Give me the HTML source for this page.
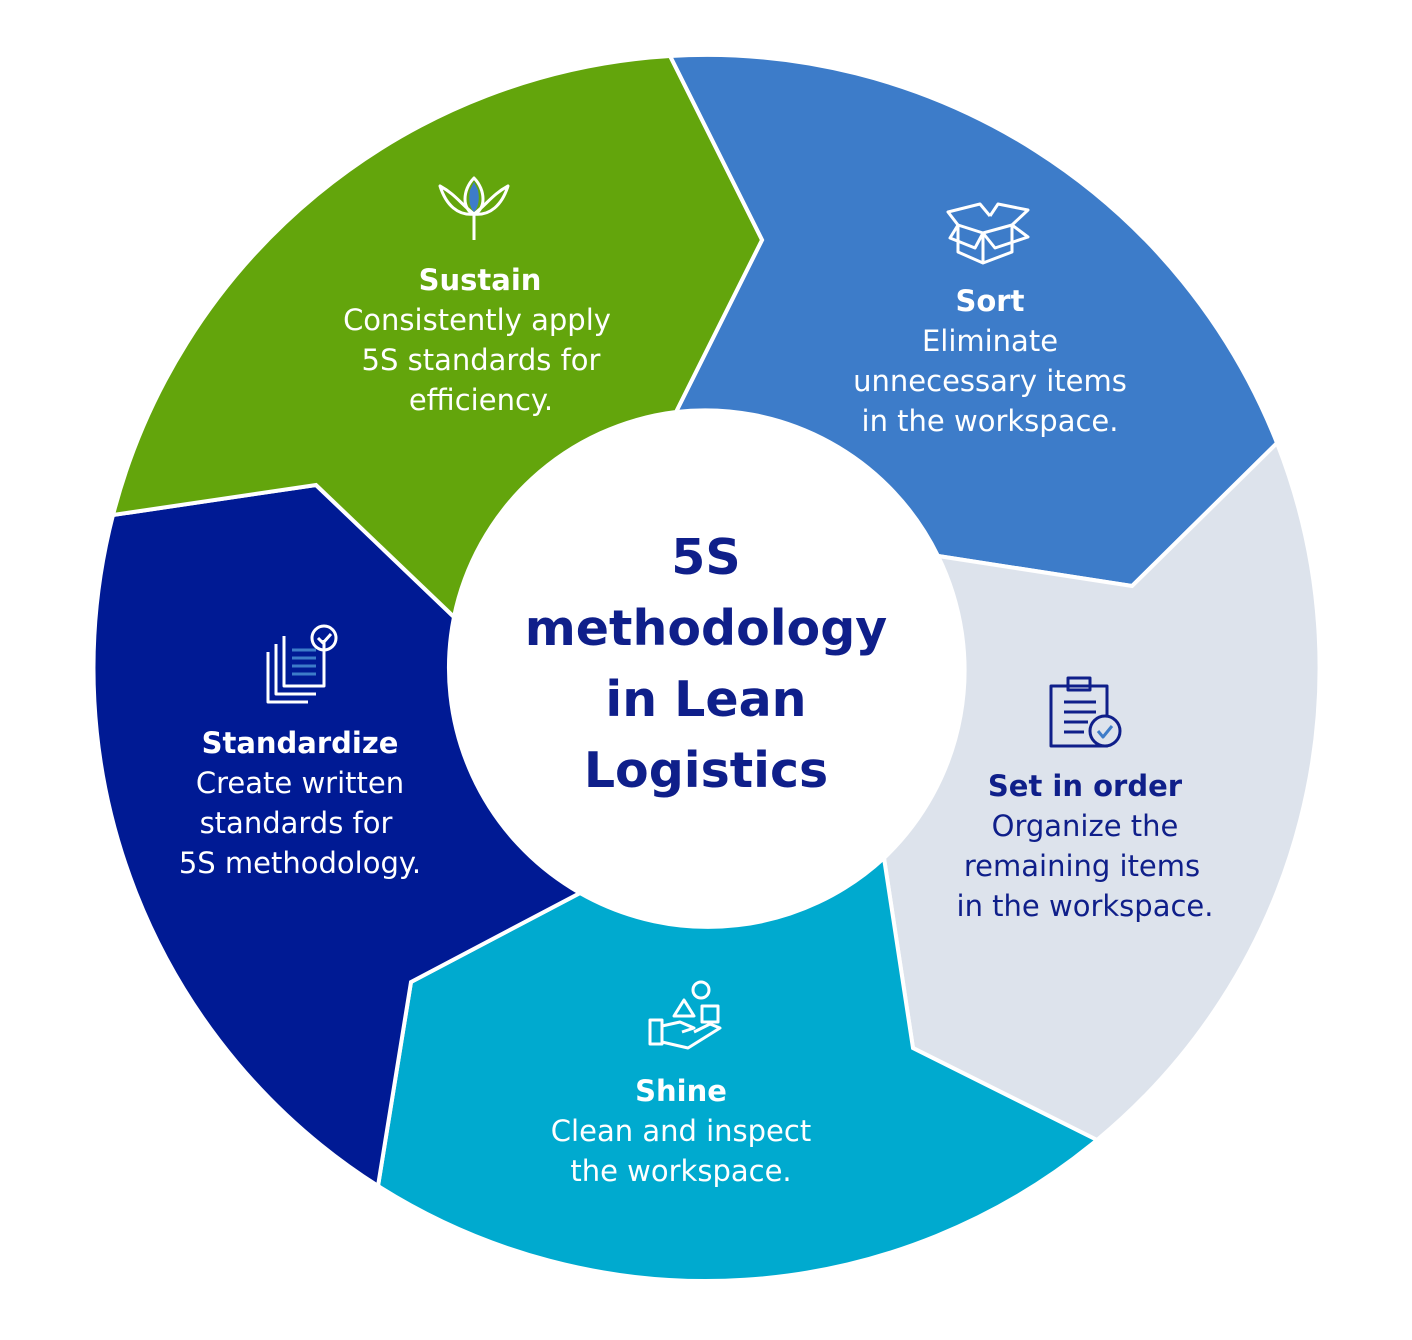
<!DOCTYPE html>
<html><head><meta charset="utf-8"><style>
html,body{margin:0;padding:0;background:#fff}
svg{display:block}
text{font-family:"DejaVu Sans","Liberation Sans",sans-serif}
</style></head><body>
<svg width="1412" height="1340" viewBox="0 0 1412 1340" xmlns="http://www.w3.org/2000/svg">
<g stroke="#fff" stroke-width="4" stroke-linejoin="miter">
<path fill="#3d7cc9" d="M670,56 A613,613 0 0 1 1277,443 L1132,586 L938,556 A259,259 0 0 0 676,412 L762,240 Z"/>
<path fill="#dde3ec" d="M1277,443 A613,613 0 0 1 1097,1140 L913,1048 L884,858 A259,259 0 0 0 938,556 L1132,586 Z"/>
<path fill="#00aacf" d="M1097,1140 A613,613 0 0 1 378,1186 L411,982 L580,893 A259,259 0 0 0 884,858 L913,1048 Z"/>
<path fill="#001a94" d="M378,1186 A613,613 0 0 1 113,515 L316,485 L454,617 A259,259 0 0 0 580,893 L411,982 Z"/>
<path fill="#63a50c" d="M113,515 A613,613 0 0 1 670,56 L762,240 L676,412 A259,259 0 0 0 454,617 L316,485 Z"/>
</g>
<circle cx="706" cy="669" r="257" fill="#fff"/>
<g fill="#0f1f8a" font-weight="bold" font-size="49" text-anchor="middle">
<text x="706" y="574">5S</text>
<text x="706" y="645">methodology</text>
<text x="706" y="716">in Lean</text>
<text x="706" y="787">Logistics</text>
</g>
<g font-size="29" text-anchor="middle" fill="#fff">
<text x="480" y="290" font-weight="bold">Sustain</text>
<text x="477" y="330">Consistently apply</text>
<text x="481" y="370">5S standards for</text>
<text x="481" y="410">efficiency.</text>
<text x="990" y="311" font-weight="bold">Sort</text>
<text x="990" y="351">Eliminate</text>
<text x="990" y="391">unnecessary items</text>
<text x="990" y="431">in the workspace.</text>
<text x="681" y="1101" font-weight="bold">Shine</text>
<text x="681" y="1141">Clean and inspect</text>
<text x="681" y="1181">the workspace.</text>
<text x="300" y="753" font-weight="bold">Standardize</text>
<text x="300" y="793">Create written</text>
<text x="296" y="833">standards for</text>
<text x="300" y="873">5S methodology.</text>
<g fill="#0f1f8a">
<text x="1085" y="796" font-weight="bold">Set in order</text>
<text x="1085" y="836">Organize the</text>
<text x="1082" y="876">remaining items</text>
<text x="1085" y="916">in the workspace.</text>
</g>
</g>
<!-- icons -->
<g fill="none" stroke="#fff" stroke-width="3" stroke-linejoin="round">
<path d="M958,225 L958,252 L983,263 L1012,252 L1012,225"/>
<path d="M958,225 L983,233 L1012,225 M983,233 L983,263"/>
<path d="M958,225 L948,212 L980,204 L990,216 M1012,225 L1028,210 L998,204 L990,216"/>
<path d="M958,225 L950,238 L975,248 L983,233 M1012,225 L1028,237 L995,248 L983,233"/>
<path d="M474,240 L474,212 M474,178 C462,190 462,210 474,214 C486,210 486,190 474,178 Z M440,186 C446,205 458,216 474,214 C462,205 455,194 440,186 Z M508,186 C502,205 490,216 474,214 C486,205 493,194 508,186 Z"/>
<rect x="650" y="1020" width="12" height="24"/>
<path d="M662,1026 L680,1022 L694,1028 L682,1032 M662,1042 L688,1048 L720,1028 L710,1024 L694,1032"/>
<path d="M674,1016 L684,1000 L694,1016 Z"/>
<circle cx="701" cy="990" r="8"/>
<rect x="702" y="1006" width="16" height="16"/>
<path d="M268,652 L268,702 L308,702 M276,644 L276,694 L316,694 M284,636 L284,686 L324,686 L324,640"/>
<circle cx="324" cy="638" r="12"/>
<path d="M318,638 L323,643 L331,634"/>
</g>
<path fill="#3d7cc9" d="M470,190 C468,200 470,208 474,212 C478,208 480,200 478,190 L474,182 Z"/>
<g stroke="#3d7cc9" stroke-width="3">
<path d="M292,650 L316,650 M292,658 L316,658 M292,666 L316,666 M292,674 L316,674"/>
</g>
<g fill="none" stroke="#0f1f8a" stroke-width="3" stroke-linejoin="round">
<rect x="1051" y="686" width="56" height="60"/>
<rect x="1068" y="678" width="22" height="12"/>
<path d="M1064,702 L1096,702 M1064,712 L1096,712 M1064,722 L1088,722 M1064,732 L1084,732"/>
<circle cx="1105" cy="731" r="15" fill="#dde3ec"/>
<path d="M1098,731 L1103,737 L1112,726" stroke="#3d7cc9"/>
</g>
</svg>
</body></html>
